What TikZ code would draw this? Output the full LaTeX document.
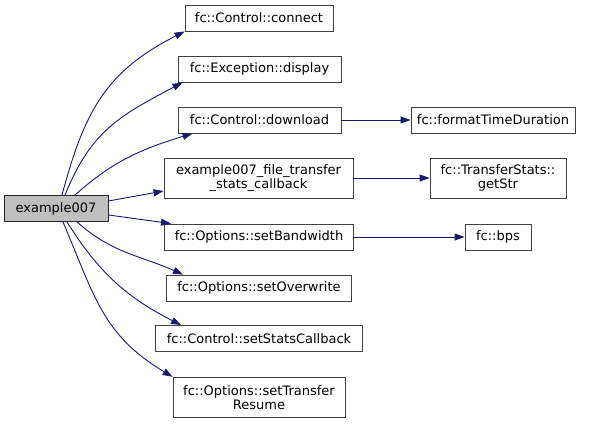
\documentclass[tikz,border=0pt]{standalone}
\definecolor{EdgeNavy}{RGB}{25, 25, 112}
\definecolor{RootGrey}{RGB}{191, 191, 191}
\definecolor{FrameGrey}{RGB}{64, 64, 64}
\usepackage{fontspec}
\setmainfont{DejaVu Sans}
\usepackage{tikz}
\usetikzlibrary{shapes,arrows.meta,positioning,calc}

\begin{document}
\begin{tikzpicture}[x=1pt,y=1pt,
                    fn/.style={draw=FrameGrey, line width=0.9pt, fill=white, inner sep=0pt,
                               minimum height=26pt, align=center, font=\fontsize{13}{14}\selectfont},
                    tall/.style={minimum height=40pt},
                    root/.style={fn, fill=RootGrey, draw=black!85},
                    call/.style={EdgeNavy, line width=0.9pt, -{Triangle[length=10pt,width=7pt]}}]
                    \useasboundingbox (0,0) rectangle (591,-423);
                    % Call graph of example007
                    \node[root, minimum width=104pt] (example) at (56,-208.5) {example007};
                    \node[fn, minimum width=148pt] (connect) at (259,-18) {fc::Control::connect};
                    \node[fn, minimum width=163pt] (display) at (259.5,-69) {fc::Exception::display};
                    \node[fn, minimum width=163pt] (download) at (259.5,-120) {fc::Control::download};
                    \node[fn, tall, minimum width=189pt] (statscb) at (258.5,-178) {example007\_file\_transfer\\\_stats\_callback};
                    \node[fn, minimum width=189pt] (setbw) at (259,-237) {fc::Options::setBandwidth};
                    \node[fn, minimum width=185pt] (setow) at (259,-288) {fc::Options::setOverwrite};
                    \node[fn, minimum width=207pt] (setstats) at (259,-338.5) {fc::Control::setStatsCallback};
                    \node[fn, tall, minimum width=172pt] (setresume) at (259,-397.3) {fc::Options::setTransfer\\Resume};
                    \node[fn, minimum width=164pt] (fmtdur) at (493,-120) {fc::formatTimeDuration};
                    \node[fn, tall, minimum width=136pt] (getstr) at (498,-178) {fc::TransferStats::\\getStr};
                    \node[fn, minimum width=66pt] (bps) at (498,-237) {fc::bps};
                    % calls from example007
                    \draw[call] ([xshift=6pt]example.north) to[out=75, in=207, looseness=1.1] (connect.south west);
                    \draw[call] ([xshift=9pt]example.north) to[out=68, in=208, looseness=1.1] ([xshift=5pt]display.south west);
                    \draw[call] ([xshift=19pt]example.north) to[out=42, in=197] ([xshift=15pt]download.south west);
                    \draw[call] ([yshift=7.5pt]example.east) -- ([yshift=-13pt]statscb.west);
                    \draw[call] ([yshift=-6.5pt]example.east) -- ([xshift=7pt]setbw.north west);
                    \draw[call] ([xshift=21pt]example.south) to[out=-42, in=156] ([xshift=17pt]setow.north west);
                    \draw[call] ([xshift=11pt]example.south) to[out=-58, in=153] ([xshift=26pt]setstats.north west);
                    \draw[call] ([xshift=7pt]example.south) to[out=-67, in=149, looseness=1.1] (setresume.north west);
                    % second level
                    \draw[call] (download) -- (fmtdur);
                    \draw[call] (statscb) -- (getstr);
                    \draw[call] (setbw) -- (bps);
                \end{tikzpicture}
\end{document}
